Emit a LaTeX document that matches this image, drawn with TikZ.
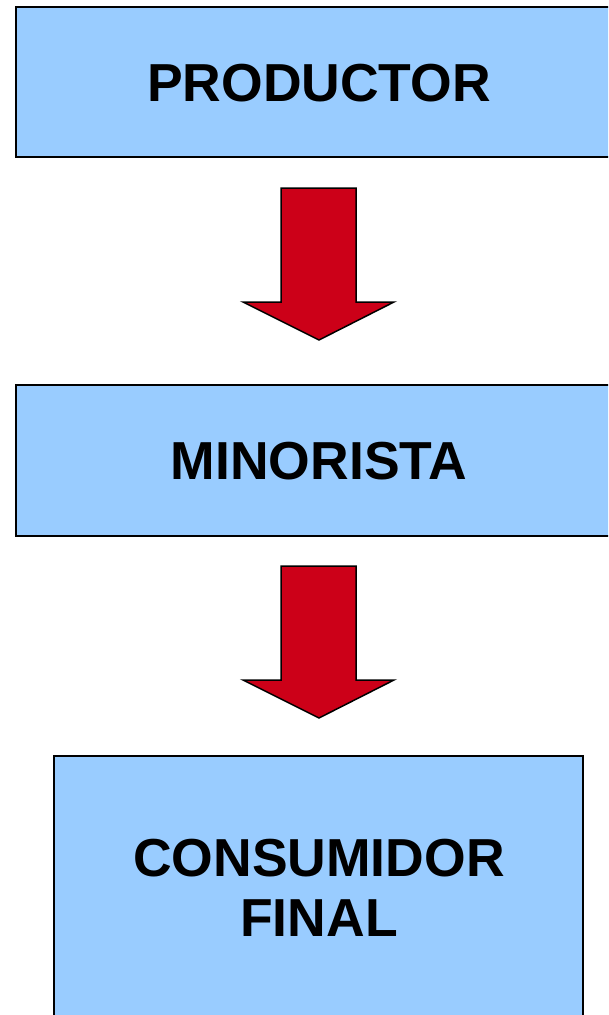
\documentclass[tikz,border=0pt]{standalone}
\usepackage{fontspec}
\setmainfont{Liberation Sans}
\definecolor{boxblue}{RGB}{153,204,255}
\definecolor{arrowred}{RGB}{204,0,24}
\begin{document}
\begin{tikzpicture}[x=1pt,y=-1pt,
  stage/.style={draw=black,line width=2pt,fill=boxblue},
  label/.style={font=\bfseries\fontsize{53.5}{60}\selectfont,align=center,text=black},
  blockarrow/.style={draw=black,line width=1.5pt,fill=arrowred,line join=miter}]
\useasboundingbox (0,0) rectangle (608,1015);
\clip (0,0) rectangle (608,1015);
% boxes
\draw[stage] (16,7) rectangle (640,157);
\draw[stage] (16,385) rectangle (640,536);
\draw[stage] (54,756) rectangle (583,1040);
\node[label] (p) at (319,83) {PRODUCTOR};
\node[label] (m) at (319,461) {MINORISTA};
\node[label] (c) at (319,888) {CONSUMIDOR\\FINAL};
% block arrows
\draw[blockarrow] (281,188) -- (356,188) -- (356,302) -- (394,302) -- (319,340) -- (243,302) -- (281,302) -- cycle;
\draw[blockarrow] (281,566) -- (356,566) -- (356,680) -- (394,680) -- (319,718) -- (243,680) -- (281,680) -- cycle;
\end{tikzpicture}
\end{document}
